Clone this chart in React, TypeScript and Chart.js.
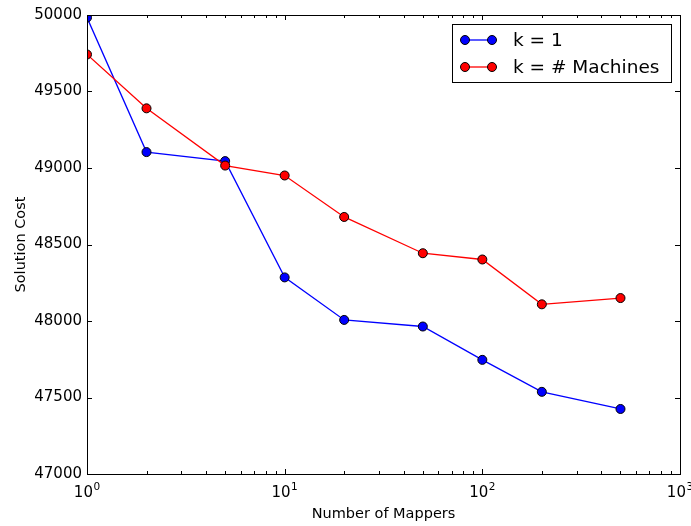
import React, { useEffect, useRef } from "react";
import { Chart, registerables } from "chart.js";

Chart.register(...registerables);

const mappers = [1, 2, 5, 10, 20, 50, 100, 200, 500];
const kOne = [49983, 49104, 49045, 48285, 48007, 47964, 47746, 47537, 47425];
const kMachines = [49742, 49390, 49016, 48951, 48680, 48443, 48402, 48109, 48150];
const seriesLabels = ["k = 1", "k = # Machines"];
const seriesColors = ["#0000ff", "#ff0000"];
const yTicks = [47000, 47500, 48000, 48500, 49000, 49500, 50000];
const xMajor = [1, 10, 100, 1000];
const xExponents = ["0", "1", "2", "3"];

const FONT = "'DejaVu Sans', sans-serif";

const framePlugin = {
  id: "frameTicks",
  afterDraw(chart: any) {
    const { ctx, chartArea: a, scales } = chart;
    const x = scales.x;
    const y = scales.y;
    ctx.save();
    ctx.strokeStyle = "#000";
    ctx.lineWidth = 1;
    ctx.beginPath();
    for (const v of yTicks) {
      const py = Math.round(y.getPixelForValue(v)) + 0.5;
      ctx.moveTo(a.left, py);
      ctx.lineTo(a.left + 5, py);
      ctx.moveTo(a.right, py);
      ctx.lineTo(a.right - 5, py);
    }
    for (let d = 1; d <= 1000; d *= 10) {
      for (let m = 1; m <= 9; m++) {
        const v = d * m;
        if (v > 1000) break;
        const major = m === 1;
        const len = major ? 5 : 3;
        const px = Math.round(x.getPixelForValue(v)) + 0.5;
        ctx.moveTo(px, a.bottom);
        ctx.lineTo(px, a.bottom - len);
        ctx.moveTo(px, a.top);
        ctx.lineTo(px, a.top + len);
      }
    }
    ctx.stroke();
    ctx.strokeRect(Math.round(a.left) + 0.5, Math.round(a.top) + 0.5, Math.round(a.right - a.left), Math.round(a.bottom - a.top));

    // x tick labels: 10 with superscript exponent
    ctx.fillStyle = "#000";
    ctx.textBaseline = "alphabetic";
    ctx.textAlign = "left";
    xMajor.forEach((v, i) => {
      const px = x.getPixelForValue(v);
      ctx.font = `15px ${FONT}`;
      const w1 = ctx.measureText("10").width;
      ctx.font = `10.5px ${FONT}`;
      const w2 = ctx.measureText(xExponents[i]).width;
      const start = px - (w1 + w2 + 0.5) / 2;
      ctx.font = `15px ${FONT}`;
      ctx.fillText("10", start, a.bottom + 23);
      ctx.font = `10.5px ${FONT}`;
      ctx.fillText(xExponents[i], start + w1 + 0.5, a.bottom + 16);
    });

    const bx = 452.5, by = 24.5, bw = 219, bh = 58;
    ctx.fillStyle = "#fff";
    ctx.fillRect(bx, by, bw, bh);
    ctx.strokeRect(bx, by, bw, bh);
    const rows = [40, 67];
    chart.data.datasets.forEach((ds: any, i: number) => {
      const ly = rows[i];
      ctx.strokeStyle = ds.borderColor;
      ctx.lineWidth = 1.3;
      ctx.beginPath();
      ctx.moveTo(465, ly);
      ctx.lineTo(492, ly);
      ctx.stroke();
      for (const mx of [465, 492]) {
        ctx.beginPath();
        ctx.arc(mx, ly, 4.5, 0, Math.PI * 2);
        ctx.fillStyle = ds.pointBackgroundColor;
        ctx.fill();
        ctx.strokeStyle = "#000";
        ctx.lineWidth = 1;
        ctx.stroke();
      }
      ctx.fillStyle = "#000";
      ctx.font = `18.5px ${FONT}`;
      ctx.textBaseline = "middle";
      ctx.textAlign = "left";
      ctx.fillText(ds.label, 513, ly + 1);
    });
    ctx.restore();
  },
};

export default function App() {
  const ref = useRef<HTMLCanvasElement | null>(null);
  useEffect(() => {
    if (!ref.current) return;
    const chart = new Chart(ref.current, {
      type: "line",
      data: {
        datasets: [
          {
            label: seriesLabels[0],
            data: mappers.map((m, i) => ({ x: m, y: kOne[i] })),
            borderColor: seriesColors[0],
            backgroundColor: seriesColors[0],
            pointBackgroundColor: seriesColors[0],
            pointBorderColor: "#000",
            pointBorderWidth: 1,
            pointRadius: 4.5,
            borderWidth: 1.3,
            tension: 0,
            clip: 0,
            order: 1,
          },
          {
            label: seriesLabels[1],
            data: mappers.map((m, i) => ({ x: m, y: kMachines[i] })),
            borderColor: seriesColors[1],
            backgroundColor: seriesColors[1],
            pointBackgroundColor: seriesColors[1],
            pointBorderColor: "#000",
            pointBorderWidth: 1,
            pointRadius: 4.5,
            borderWidth: 1.3,
            tension: 0,
            clip: 0,
            order: 0,
          },
        ],
      },
      options: {
        animation: false,
        responsive: false,
        devicePixelRatio: 1,
        layout: { padding: { left: 0, right: 11, top: 15, bottom: 0 } },
        plugins: { legend: { display: false }, tooltip: { enabled: false } },
        scales: {
          x: {
            type: "logarithmic",
            min: 1,
            max: 1000,
            grid: { display: false, drawTicks: false },
            border: { display: false },
            ticks: { display: false },
            title: {
              display: true,
              text: "Number of Mappers",
              color: "#000",
              font: { family: FONT, size: 14.5 },
              padding: { top: 0, bottom: 3 },
            },
            afterFit: (s: any) => {
              s.height = 52;
              s.paddingLeft = 0;
              s.paddingRight = 0;
            },
          },
          y: {
            type: "linear",
            min: 47000,
            max: 50000,
            grid: { display: false, drawTicks: false },
            border: { display: false },
            ticks: {
              stepSize: 500,
              padding: 5,
              color: "#000",
              font: { family: FONT, size: 15 },
              callback: (v: any) => String(v),
            },
            title: {
              display: true,
              text: "Solution Cost",
              color: "#000",
              font: { family: FONT, size: 14.5 },
              padding: { top: 13, bottom: 0 },
            },
            afterFit: (s: any) => {
              s.width = 87;
              s.paddingTop = 0;
              s.paddingBottom = 0;
            },
          },
        },
      },
      plugins: [framePlugin],
    } as any);
    return () => chart.destroy();
  }, []);
  return (
    <div style={{ position: "fixed", left: 0, top: 0, width: 691, height: 526, background: "#fff" }}>
      <canvas ref={ref} width={691} height={526} style={{ width: 691, height: 526 }} />
    </div>
  );
}
